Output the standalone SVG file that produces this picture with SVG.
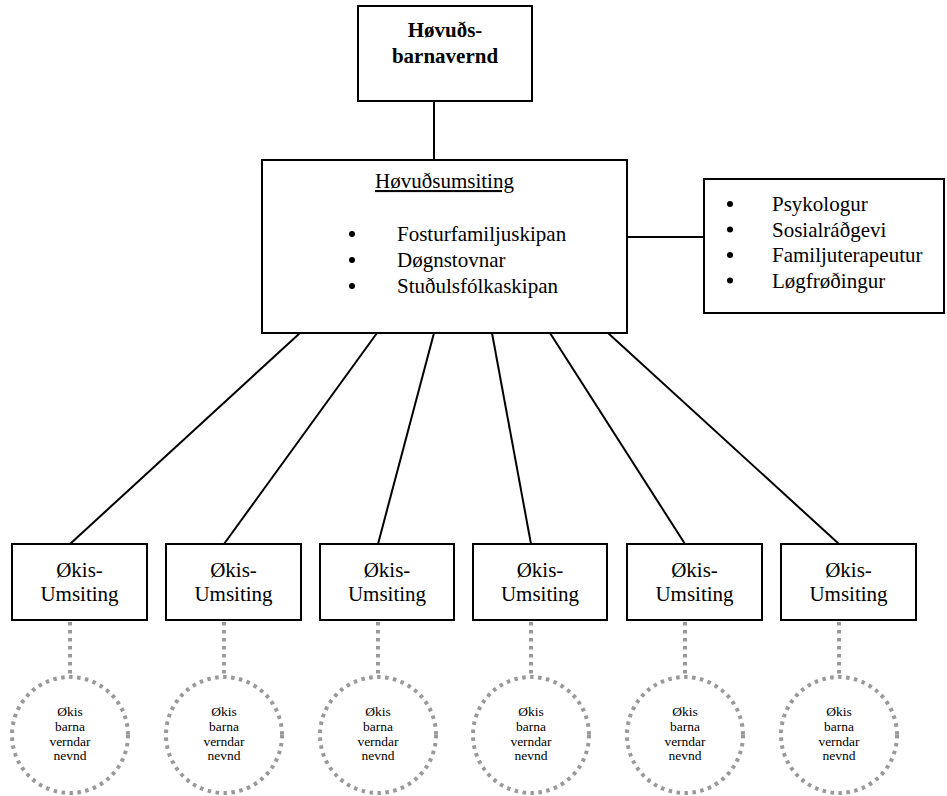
<svg xmlns="http://www.w3.org/2000/svg" width="947" height="796" viewBox="0 0 947 796">
<style>
.box{fill:#fff;stroke:#000;stroke-width:2}
text{font-family:'Liberation Serif','Times New Roman','DejaVu Serif',serif;fill:#000}
.t{font-size:21px}
.b{font-weight:bold}
.c{text-anchor:middle}
.s{font-size:13.5px;text-anchor:middle}
.ln{stroke:#000;stroke-width:2;fill:none}
.dot{stroke:#999;stroke-width:4;stroke-dasharray:3.5 4.5;fill:none}
</style>
<rect width="947" height="796" fill="#fff"/>
<g id="connectors">
<line class="ln" x1="434" y1="101" x2="434" y2="160"/>
<line class="ln" x1="627" y1="237" x2="704" y2="237"/>
<line class="ln" x1="300" y1="333" x2="70" y2="544"/>
<line class="ln" x1="377" y1="333" x2="224" y2="544"/>
<line class="ln" x1="434" y1="333" x2="378" y2="544"/>
<line class="ln" x1="492" y1="333" x2="531" y2="544"/>
<line class="ln" x1="550" y1="333" x2="685" y2="544"/>
<line class="ln" x1="608" y1="333" x2="839" y2="544"/>
<line class="dot" x1="70" y1="622" x2="70" y2="677"/>
<line class="dot" x1="224" y1="622" x2="224" y2="677"/>
<line class="dot" x1="378" y1="622" x2="378" y2="677"/>
<line class="dot" x1="531" y1="622" x2="531" y2="677"/>
<line class="dot" x1="685" y1="622" x2="685" y2="677"/>
<line class="dot" x1="839" y1="622" x2="839" y2="677"/>
</g>
<g id="top">
<rect class="box" x="358" y="6" width="174" height="95"/>
<text class="t b c" x="445" y="37" font-family="Liberation Serif, serif">Høvuðs-</text>
<text class="t b c" x="445" y="63" font-family="Liberation Serif, serif">barnavernd</text>
</g>
<g id="main">
<rect class="box" x="262" y="160" width="365" height="173"/>
<text class="t c" x="444.5" y="188" text-decoration="underline">Høvuðsumsiting</text>
<circle cx="352" cy="234" r="3"/>
<circle cx="352" cy="260" r="3"/>
<circle cx="352" cy="286" r="3"/>
<text class="t" x="397" y="241">Fosturfamiljuskipan</text>
<text class="t" x="397" y="267">Døgnstovnar</text>
<text class="t" x="397" y="293">Stuðulsfólkaskipan</text>
</g>
<g id="staff">
<rect class="box" x="704" y="179" width="240" height="134"/>
<circle cx="730" cy="204" r="3"/>
<circle cx="730" cy="229.5" r="3"/>
<circle cx="730" cy="255" r="3"/>
<circle cx="730" cy="280.5" r="3"/>
<text class="t" x="772" y="211">Psykologur</text>
<text class="t" x="772" y="236.5">Sosialráðgevi</text>
<text class="t" x="772" y="262">Familjuterapeutur</text>
<text class="t" x="772" y="287.5">Løgfrøðingur</text>
</g>
<g id="u1"><rect class="box" x="12" y="544" width="135" height="76"/><text class="t c" x="79.5" y="577">Økis-</text><text class="t c" x="79.5" y="601">Umsiting</text></g>
<g id="u2"><rect class="box" x="166" y="544" width="135" height="76"/><text class="t c" x="233.5" y="577">Økis-</text><text class="t c" x="233.5" y="601">Umsiting</text></g>
<g id="u3"><rect class="box" x="320" y="544" width="134" height="76"/><text class="t c" x="387" y="577">Økis-</text><text class="t c" x="387" y="601">Umsiting</text></g>
<g id="u4"><rect class="box" x="473" y="544" width="134" height="76"/><text class="t c" x="540" y="577">Økis-</text><text class="t c" x="540" y="601">Umsiting</text></g>
<g id="u5"><rect class="box" x="627" y="544" width="135" height="76"/><text class="t c" x="694.5" y="577">Økis-</text><text class="t c" x="694.5" y="601">Umsiting</text></g>
<g id="u6"><rect class="box" x="781" y="544" width="135" height="76"/><text class="t c" x="848.5" y="577">Økis-</text><text class="t c" x="848.5" y="601">Umsiting</text></g>
<g id="n1"><circle class="dot" cx="70" cy="735" r="58"/><text class="s" x="70" y="716">Økis</text><text class="s" x="70" y="731">barna</text><text class="s" x="70" y="745.5">verndar</text><text class="s" x="70" y="760">nevnd</text></g>
<g id="n2"><circle class="dot" cx="224" cy="735" r="58"/><text class="s" x="224" y="716">Økis</text><text class="s" x="224" y="731">barna</text><text class="s" x="224" y="745.5">verndar</text><text class="s" x="224" y="760">nevnd</text></g>
<g id="n3"><circle class="dot" cx="378" cy="735" r="58"/><text class="s" x="378" y="716">Økis</text><text class="s" x="378" y="731">barna</text><text class="s" x="378" y="745.5">verndar</text><text class="s" x="378" y="760">nevnd</text></g>
<g id="n4"><circle class="dot" cx="531" cy="735" r="58"/><text class="s" x="531" y="716">Økis</text><text class="s" x="531" y="731">barna</text><text class="s" x="531" y="745.5">verndar</text><text class="s" x="531" y="760">nevnd</text></g>
<g id="n5"><circle class="dot" cx="685" cy="735" r="58"/><text class="s" x="685" y="716">Økis</text><text class="s" x="685" y="731">barna</text><text class="s" x="685" y="745.5">verndar</text><text class="s" x="685" y="760">nevnd</text></g>
<g id="n6"><circle class="dot" cx="839" cy="735" r="58"/><text class="s" x="839" y="716">Økis</text><text class="s" x="839" y="731">barna</text><text class="s" x="839" y="745.5">verndar</text><text class="s" x="839" y="760">nevnd</text></g>
</svg>
